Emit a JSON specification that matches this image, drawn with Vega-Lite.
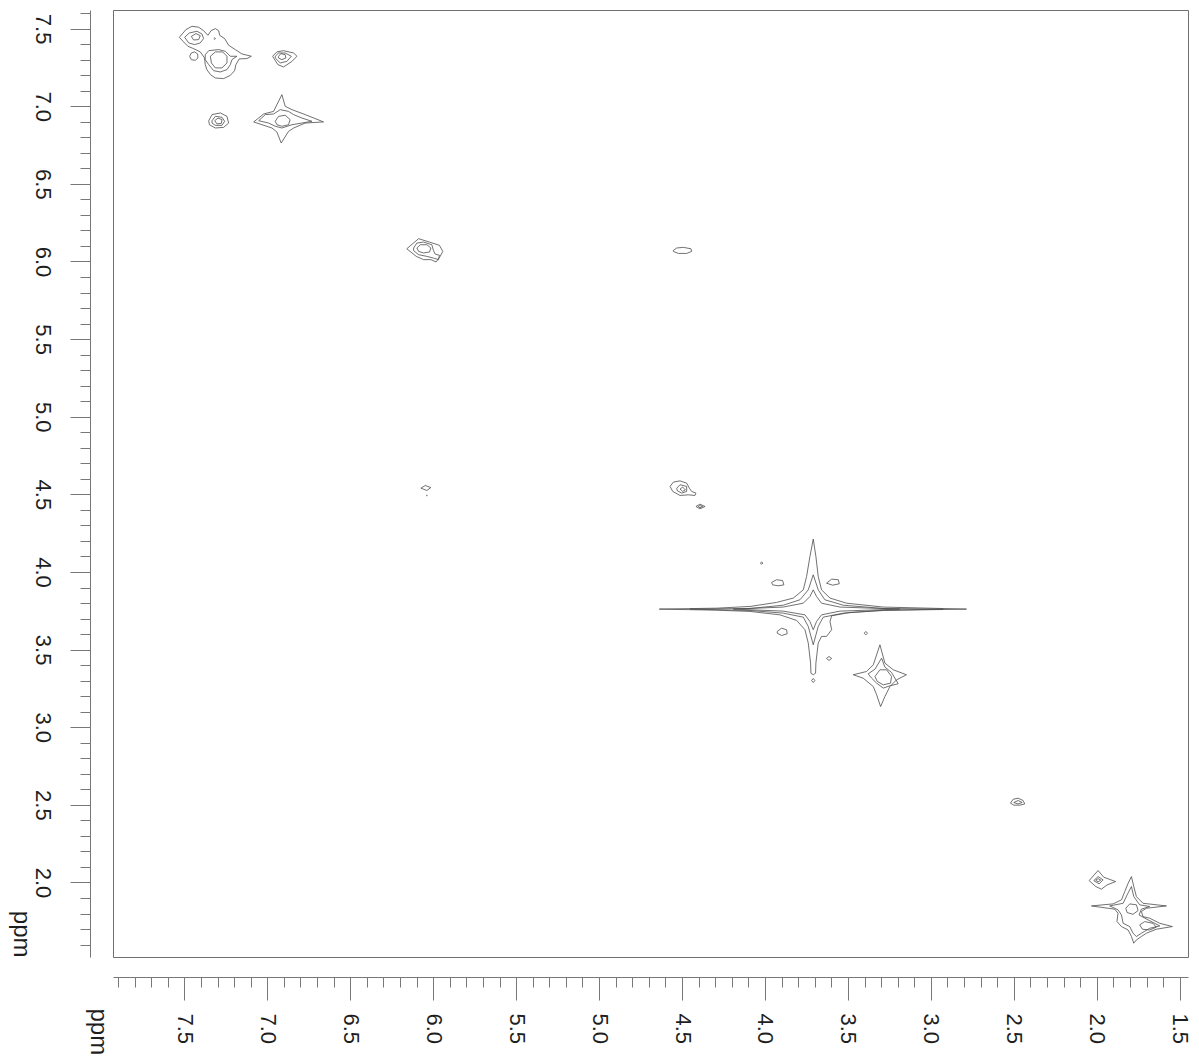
{
  "$schema": "https://vega.github.io/schema/vega-lite/v6.json",
  "width": 1075,
  "height": 947,
  "autosize": {"type": "none"},
  "padding": {"left": 113, "top": 10, "right": 11, "bottom": 105},
  "background": "white",
  "config": {
    "view": {"stroke": "#707070", "strokeWidth": 1},
    "axis": {
      "grid": false,
      "domainColor": "#777777",
      "tickColor": "#777777",
      "labelColor": "#1e1e1e",
      "titleColor": "#1e1e1e",
      "labelFont": "Liberation Sans",
      "titleFont": "Liberation Sans",
      "labelFontSize": 22,
      "titleFontSize": 24,
      "titleFontWeight": "normal",
      "labelFlush": false,
      "labelOverlap": false,
      "labelBound": false
    }
  },
  "data": {
    "values": [
      {"c":"A1","i":1,"x":7.530,"y":7.444},{"c":"A1","i":2,"x":7.490,"y":7.494},{"c":"A1","i":3,"x":7.454,"y":7.515},{"c":"A1","i":4,"x":7.414,"y":7.509},{"c":"A1","i":5,"x":7.384,"y":7.487},{"c":"A1","i":6,"x":7.358,"y":7.457},{"c":"A1","i":7,"x":7.339,"y":7.487},{"c":"A1","i":8,"x":7.313,"y":7.500},{"c":"A1","i":9,"x":7.293,"y":7.487},{"c":"A1","i":10,"x":7.287,"y":7.457},{"c":"A1","i":11,"x":7.257,"y":7.436},{"c":"A1","i":12,"x":7.233,"y":7.393},{"c":"A1","i":13,"x":7.193,"y":7.365},{"c":"A1","i":14,"x":7.153,"y":7.337},{"c":"A1","i":15,"x":7.096,"y":7.322},{"c":"A1","i":16,"x":7.123,"y":7.307},{"c":"A1","i":17,"x":7.169,"y":7.305},{"c":"A1","i":18,"x":7.189,"y":7.268},{"c":"A1","i":19,"x":7.197,"y":7.229},{"c":"A1","i":20,"x":7.223,"y":7.199},{"c":"A1","i":21,"x":7.263,"y":7.178},{"c":"A1","i":22,"x":7.313,"y":7.182},{"c":"A1","i":23,"x":7.343,"y":7.204},{"c":"A1","i":24,"x":7.364,"y":7.236},{"c":"A1","i":25,"x":7.374,"y":7.268},{"c":"A1","i":26,"x":7.378,"y":7.311},{"c":"A1","i":27,"x":7.404,"y":7.350},{"c":"A1","i":28,"x":7.444,"y":7.371},{"c":"A1","i":29,"x":7.478,"y":7.386},{"c":"A1","i":30,"x":7.504,"y":7.414},{"c":"A1","i":31,"x":7.530,"y":7.444},
      {"c":"A2","i":1,"x":7.498,"y":7.444},{"c":"A2","i":2,"x":7.470,"y":7.472},{"c":"A2","i":3,"x":7.424,"y":7.483},{"c":"A2","i":4,"x":7.394,"y":7.466},{"c":"A2","i":5,"x":7.384,"y":7.436},{"c":"A2","i":6,"x":7.404,"y":7.408},{"c":"A2","i":7,"x":7.438,"y":7.397},{"c":"A2","i":8,"x":7.474,"y":7.408},{"c":"A2","i":9,"x":7.498,"y":7.444},
      {"c":"A3","i":1,"x":7.458,"y":7.450},{"c":"A3","i":2,"x":7.430,"y":7.468},{"c":"A3","i":3,"x":7.404,"y":7.455},{"c":"A3","i":4,"x":7.414,"y":7.429},{"c":"A3","i":5,"x":7.444,"y":7.427},{"c":"A3","i":6,"x":7.458,"y":7.450},
      {"c":"A4","i":1,"x":7.468,"y":7.322},{"c":"A4","i":2,"x":7.458,"y":7.343},{"c":"A4","i":3,"x":7.438,"y":7.350},{"c":"A4","i":4,"x":7.420,"y":7.337},{"c":"A4","i":5,"x":7.418,"y":7.311},{"c":"A4","i":6,"x":7.434,"y":7.296},{"c":"A4","i":7,"x":7.458,"y":7.300},{"c":"A4","i":8,"x":7.468,"y":7.322},
      {"c":"A5","i":1,"x":7.374,"y":7.332},{"c":"A5","i":2,"x":7.353,"y":7.358},{"c":"A5","i":3,"x":7.293,"y":7.365},{"c":"A5","i":4,"x":7.253,"y":7.354},{"c":"A5","i":5,"x":7.223,"y":7.322},{"c":"A5","i":6,"x":7.183,"y":7.322},{"c":"A5","i":7,"x":7.213,"y":7.300},{"c":"A5","i":8,"x":7.223,"y":7.268},{"c":"A5","i":9,"x":7.243,"y":7.236},{"c":"A5","i":10,"x":7.283,"y":7.221},{"c":"A5","i":11,"x":7.323,"y":7.229},{"c":"A5","i":12,"x":7.353,"y":7.268},{"c":"A5","i":13,"x":7.374,"y":7.300},{"c":"A5","i":14,"x":7.374,"y":7.332},
      {"c":"A6","i":1,"x":7.343,"y":7.322},{"c":"A6","i":2,"x":7.313,"y":7.350},{"c":"A6","i":3,"x":7.269,"y":7.350},{"c":"A6","i":4,"x":7.243,"y":7.322},{"c":"A6","i":5,"x":7.243,"y":7.279},{"c":"A6","i":6,"x":7.273,"y":7.247},{"c":"A6","i":7,"x":7.313,"y":7.247},{"c":"A6","i":8,"x":7.337,"y":7.279},{"c":"A6","i":9,"x":7.343,"y":7.322},
      {"c":"A7","i":1,"x":7.322,"y":7.436},{"c":"A7","i":2,"x":7.317,"y":7.441},{"c":"A7","i":3,"x":7.312,"y":7.436},{"c":"A7","i":4,"x":7.317,"y":7.431},{"c":"A7","i":5,"x":7.322,"y":7.436},
      {"c":"B1","i":1,"x":6.968,"y":7.322},{"c":"B1","i":2,"x":6.942,"y":7.350},{"c":"B1","i":3,"x":6.902,"y":7.358},{"c":"B1","i":4,"x":6.841,"y":7.343},{"c":"B1","i":5,"x":6.821,"y":7.322},{"c":"B1","i":6,"x":6.851,"y":7.289},{"c":"B1","i":7,"x":6.902,"y":7.253},{"c":"B1","i":8,"x":6.936,"y":7.268},{"c":"B1","i":9,"x":6.968,"y":7.322},
      {"c":"B2","i":1,"x":6.952,"y":7.322},{"c":"B2","i":2,"x":6.932,"y":7.343},{"c":"B2","i":3,"x":6.892,"y":7.343},{"c":"B2","i":4,"x":6.855,"y":7.322},{"c":"B2","i":5,"x":6.882,"y":7.289},{"c":"B2","i":6,"x":6.922,"y":7.279},{"c":"B2","i":7,"x":6.952,"y":7.311},{"c":"B2","i":8,"x":6.952,"y":7.322},
      {"c":"B3","i":1,"x":6.932,"y":7.322},{"c":"B3","i":2,"x":6.918,"y":7.339},{"c":"B3","i":3,"x":6.892,"y":7.332},{"c":"B3","i":4,"x":6.888,"y":7.311},{"c":"B3","i":5,"x":6.912,"y":7.300},{"c":"B3","i":6,"x":6.932,"y":7.311},{"c":"B3","i":7,"x":6.932,"y":7.322},
      {"c":"C1","i":1,"x":7.353,"y":6.907},{"c":"C1","i":2,"x":7.333,"y":6.946},{"c":"C1","i":3,"x":7.283,"y":6.957},{"c":"C1","i":4,"x":7.243,"y":6.935},{"c":"C1","i":5,"x":7.233,"y":6.892},{"c":"C1","i":6,"x":7.263,"y":6.864},{"c":"C1","i":7,"x":7.313,"y":6.860},{"c":"C1","i":8,"x":7.349,"y":6.881},{"c":"C1","i":9,"x":7.353,"y":6.907},
      {"c":"C2","i":1,"x":7.333,"y":6.907},{"c":"C2","i":2,"x":7.313,"y":6.935},{"c":"C2","i":3,"x":7.273,"y":6.929},{"c":"C2","i":4,"x":7.257,"y":6.903},{"c":"C2","i":5,"x":7.273,"y":6.877},{"c":"C2","i":6,"x":7.313,"y":6.877},{"c":"C2","i":7,"x":7.333,"y":6.892},{"c":"C2","i":8,"x":7.333,"y":6.907},
      {"c":"C3","i":1,"x":7.317,"y":6.907},{"c":"C3","i":2,"x":7.297,"y":6.924},{"c":"C3","i":3,"x":7.273,"y":6.914},{"c":"C3","i":4,"x":7.277,"y":6.890},{"c":"C3","i":5,"x":7.303,"y":6.886},{"c":"C3","i":6,"x":7.317,"y":6.907},
      {"c":"D1","i":1,"x":7.082,"y":6.899},{"c":"D1","i":2,"x":7.022,"y":6.950},{"c":"D1","i":3,"x":6.962,"y":6.967},{"c":"D1","i":4,"x":6.912,"y":7.075},{"c":"D1","i":5,"x":6.892,"y":7.000},{"c":"D1","i":6,"x":6.851,"y":6.978},{"c":"D1","i":7,"x":6.771,"y":6.946},{"c":"D1","i":8,"x":6.661,"y":6.899},{"c":"D1","i":9,"x":6.771,"y":6.892},{"c":"D1","i":10,"x":6.841,"y":6.860},{"c":"D1","i":11,"x":6.872,"y":6.838},{"c":"D1","i":12,"x":6.916,"y":6.763},{"c":"D1","i":13,"x":6.942,"y":6.834},{"c":"D1","i":14,"x":6.972,"y":6.860},{"c":"D1","i":15,"x":7.032,"y":6.881},{"c":"D1","i":16,"x":7.082,"y":6.899},
      {"c":"D2","i":1,"x":7.052,"y":6.907},{"c":"D2","i":2,"x":7.012,"y":6.946},{"c":"D2","i":3,"x":6.962,"y":6.950},{"c":"D2","i":4,"x":6.922,"y":6.978},{"c":"D2","i":5,"x":6.872,"y":6.967},{"c":"D2","i":6,"x":6.841,"y":6.946},{"c":"D2","i":7,"x":6.791,"y":6.924},{"c":"D2","i":8,"x":6.731,"y":6.903},{"c":"D2","i":9,"x":6.791,"y":6.892},{"c":"D2","i":10,"x":6.851,"y":6.881},{"c":"D2","i":11,"x":6.912,"y":6.860},{"c":"D2","i":12,"x":6.952,"y":6.871},{"c":"D2","i":13,"x":6.992,"y":6.892},{"c":"D2","i":14,"x":7.052,"y":6.907},
      {"c":"D3","i":1,"x":6.952,"y":6.903},{"c":"D3","i":2,"x":6.932,"y":6.935},{"c":"D3","i":3,"x":6.892,"y":6.942},{"c":"D3","i":4,"x":6.862,"y":6.914},{"c":"D3","i":5,"x":6.872,"y":6.881},{"c":"D3","i":6,"x":6.912,"y":6.871},{"c":"D3","i":7,"x":6.942,"y":6.881},{"c":"D3","i":8,"x":6.952,"y":6.903},
      {"c":"E1","i":1,"x":6.159,"y":6.082},{"c":"E1","i":2,"x":6.088,"y":6.147},{"c":"E1","i":3,"x":6.022,"y":6.125},{"c":"E1","i":4,"x":5.962,"y":6.104},{"c":"E1","i":5,"x":5.942,"y":6.065},{"c":"E1","i":6,"x":5.958,"y":6.033},{"c":"E1","i":7,"x":5.982,"y":5.997},{"c":"E1","i":8,"x":6.014,"y":6.012},{"c":"E1","i":9,"x":6.058,"y":6.012},{"c":"E1","i":10,"x":6.102,"y":6.033},{"c":"E1","i":11,"x":6.159,"y":6.082},
      {"c":"E2","i":1,"x":6.118,"y":6.087},{"c":"E2","i":2,"x":6.098,"y":6.119},{"c":"E2","i":3,"x":6.058,"y":6.125},{"c":"E2","i":4,"x":6.008,"y":6.108},{"c":"E2","i":5,"x":5.998,"y":6.070},{"c":"E2","i":6,"x":5.988,"y":6.048},{"c":"E2","i":7,"x":5.962,"y":6.040},{"c":"E2","i":8,"x":5.968,"y":6.012},{"c":"E2","i":9,"x":5.998,"y":6.022},{"c":"E2","i":10,"x":6.038,"y":6.033},{"c":"E2","i":11,"x":6.088,"y":6.044},{"c":"E2","i":12,"x":6.118,"y":6.070},{"c":"E2","i":13,"x":6.118,"y":6.087},
      {"c":"E3","i":1,"x":6.098,"y":6.087},{"c":"E3","i":2,"x":6.078,"y":6.108},{"c":"E3","i":3,"x":6.038,"y":6.108},{"c":"E3","i":4,"x":6.014,"y":6.087},{"c":"E3","i":5,"x":6.022,"y":6.061},{"c":"E3","i":6,"x":6.058,"y":6.055},{"c":"E3","i":7,"x":6.088,"y":6.065},{"c":"E3","i":8,"x":6.098,"y":6.087},
      {"c":"F1","i":1,"x":4.552,"y":6.072},{"c":"F1","i":2,"x":4.532,"y":6.087},{"c":"F1","i":3,"x":4.492,"y":6.091},{"c":"F1","i":4,"x":4.446,"y":6.082},{"c":"F1","i":5,"x":4.442,"y":6.065},{"c":"F1","i":6,"x":4.472,"y":6.052},{"c":"F1","i":7,"x":4.522,"y":6.052},{"c":"F1","i":8,"x":4.552,"y":6.065},{"c":"F1","i":9,"x":4.552,"y":6.072},
      {"c":"G1","i":1,"x":6.074,"y":4.540},{"c":"G1","i":2,"x":6.048,"y":4.557},{"c":"G1","i":3,"x":6.014,"y":4.544},{"c":"G1","i":4,"x":6.038,"y":4.525},{"c":"G1","i":5,"x":6.074,"y":4.540},
      {"c":"G2","i":1,"x":6.041,"y":4.493},{"c":"G2","i":2,"x":6.038,"y":4.496},{"c":"G2","i":3,"x":6.035,"y":4.493},{"c":"G2","i":4,"x":6.038,"y":4.490},{"c":"G2","i":5,"x":6.041,"y":4.493},
      {"c":"H1","i":1,"x":4.572,"y":4.551},{"c":"H1","i":2,"x":4.552,"y":4.579},{"c":"H1","i":3,"x":4.512,"y":4.587},{"c":"H1","i":4,"x":4.472,"y":4.572},{"c":"H1","i":5,"x":4.456,"y":4.540},{"c":"H1","i":6,"x":4.442,"y":4.519},{"c":"H1","i":7,"x":4.416,"y":4.508},{"c":"H1","i":8,"x":4.422,"y":4.493},{"c":"H1","i":9,"x":4.462,"y":4.497},{"c":"H1","i":10,"x":4.512,"y":4.493},{"c":"H1","i":11,"x":4.556,"y":4.519},{"c":"H1","i":12,"x":4.572,"y":4.551},
      {"c":"H2","i":1,"x":4.532,"y":4.540},{"c":"H2","i":2,"x":4.512,"y":4.562},{"c":"H2","i":3,"x":4.472,"y":4.551},{"c":"H2","i":4,"x":4.472,"y":4.519},{"c":"H2","i":5,"x":4.502,"y":4.508},{"c":"H2","i":6,"x":4.528,"y":4.523},{"c":"H2","i":7,"x":4.532,"y":4.540},
      {"c":"H3","i":1,"x":4.512,"y":4.534},{"c":"H3","i":2,"x":4.496,"y":4.547},{"c":"H3","i":3,"x":4.480,"y":4.529},{"c":"H3","i":4,"x":4.496,"y":4.519},{"c":"H3","i":5,"x":4.512,"y":4.534},
      {"c":"I1","i":1,"x":4.416,"y":4.422},{"c":"I1","i":2,"x":4.392,"y":4.437},{"c":"I1","i":3,"x":4.361,"y":4.422},{"c":"I1","i":4,"x":4.392,"y":4.407},{"c":"I1","i":5,"x":4.416,"y":4.422},
      {"c":"I2","i":1,"x":4.402,"y":4.422},{"c":"I2","i":2,"x":4.392,"y":4.428},{"c":"I2","i":3,"x":4.376,"y":4.422},{"c":"I2","i":4,"x":4.392,"y":4.413},{"c":"I2","i":5,"x":4.402,"y":4.422},
      {"c":"J1","i":1,"x":4.637,"y":3.761},{"c":"J1","i":2,"x":4.291,"y":3.767},{"c":"J1","i":3,"x":4.090,"y":3.778},{"c":"J1","i":4,"x":3.930,"y":3.804},{"c":"J1","i":5,"x":3.829,"y":3.832},{"c":"J1","i":6,"x":3.769,"y":3.885},{"c":"J1","i":7,"x":3.749,"y":3.971},{"c":"J1","i":8,"x":3.729,"y":4.100},{"c":"J1","i":9,"x":3.709,"y":4.212},{"c":"J1","i":10,"x":3.693,"y":4.100},{"c":"J1","i":11,"x":3.679,"y":3.971},{"c":"J1","i":12,"x":3.659,"y":3.885},{"c":"J1","i":13,"x":3.608,"y":3.832},{"c":"J1","i":14,"x":3.508,"y":3.799},{"c":"J1","i":15,"x":3.287,"y":3.774},{"c":"J1","i":16,"x":2.785,"y":3.761},{"c":"J1","i":17,"x":3.287,"y":3.752},{"c":"J1","i":18,"x":3.488,"y":3.739},{"c":"J1","i":19,"x":3.598,"y":3.718},{"c":"J1","i":20,"x":3.608,"y":3.681},{"c":"J1","i":21,"x":3.598,"y":3.628},{"c":"J1","i":22,"x":3.629,"y":3.585},{"c":"J1","i":23,"x":3.659,"y":3.585},{"c":"J1","i":24,"x":3.679,"y":3.542},{"c":"J1","i":25,"x":3.693,"y":3.413},{"c":"J1","i":26,"x":3.695,"y":3.348},{"c":"J1","i":27,"x":3.709,"y":3.338},{"c":"J1","i":28,"x":3.723,"y":3.348},{"c":"J1","i":29,"x":3.725,"y":3.413},{"c":"J1","i":30,"x":3.739,"y":3.542},{"c":"J1","i":31,"x":3.759,"y":3.628},{"c":"J1","i":32,"x":3.809,"y":3.688},{"c":"J1","i":33,"x":3.910,"y":3.724},{"c":"J1","i":34,"x":4.090,"y":3.746},{"c":"J1","i":35,"x":4.291,"y":3.754},{"c":"J1","i":36,"x":4.637,"y":3.761},
      {"c":"J2","i":1,"x":4.452,"y":3.761},{"c":"J2","i":2,"x":4.090,"y":3.765},{"c":"J2","i":3,"x":3.890,"y":3.786},{"c":"J2","i":4,"x":3.789,"y":3.821},{"c":"J2","i":5,"x":3.739,"y":3.885},{"c":"J2","i":6,"x":3.709,"y":3.982},{"c":"J2","i":7,"x":3.679,"y":3.885},{"c":"J2","i":8,"x":3.639,"y":3.821},{"c":"J2","i":9,"x":3.528,"y":3.786},{"c":"J2","i":10,"x":3.287,"y":3.765},{"c":"J2","i":11,"x":2.926,"y":3.761},{"c":"J2","i":12,"x":3.287,"y":3.754},{"c":"J2","i":13,"x":3.528,"y":3.735},{"c":"J2","i":14,"x":3.649,"y":3.709},{"c":"J2","i":15,"x":3.679,"y":3.649},{"c":"J2","i":16,"x":3.709,"y":3.531},{"c":"J2","i":17,"x":3.739,"y":3.649},{"c":"J2","i":18,"x":3.769,"y":3.709},{"c":"J2","i":19,"x":3.890,"y":3.735},{"c":"J2","i":20,"x":4.090,"y":3.752},{"c":"J2","i":21,"x":4.452,"y":3.761},
      {"c":"J3","i":1,"x":4.191,"y":3.761},{"c":"J3","i":2,"x":3.890,"y":3.774},{"c":"J3","i":3,"x":3.769,"y":3.799},{"c":"J3","i":4,"x":3.729,"y":3.842},{"c":"J3","i":5,"x":3.709,"y":3.885},{"c":"J3","i":6,"x":3.689,"y":3.842},{"c":"J3","i":7,"x":3.659,"y":3.799},{"c":"J3","i":8,"x":3.548,"y":3.774},{"c":"J3","i":9,"x":3.187,"y":3.761},{"c":"J3","i":10,"x":3.548,"y":3.748},{"c":"J3","i":11,"x":3.659,"y":3.724},{"c":"J3","i":12,"x":3.689,"y":3.681},{"c":"J3","i":13,"x":3.709,"y":3.628},{"c":"J3","i":14,"x":3.729,"y":3.681},{"c":"J3","i":15,"x":3.759,"y":3.724},{"c":"J3","i":16,"x":3.890,"y":3.748},{"c":"J3","i":17,"x":4.191,"y":3.761},
      {"c":"L1","i":1,"x":3.960,"y":3.933},{"c":"L1","i":2,"x":3.930,"y":3.950},{"c":"L1","i":3,"x":3.894,"y":3.945},{"c":"L1","i":4,"x":3.886,"y":3.917},{"c":"L1","i":5,"x":3.920,"y":3.911},{"c":"L1","i":6,"x":3.954,"y":3.917},{"c":"L1","i":7,"x":3.960,"y":3.933},
      {"c":"L2","i":1,"x":3.629,"y":3.928},{"c":"L2","i":2,"x":3.598,"y":3.954},{"c":"L2","i":3,"x":3.558,"y":3.950},{"c":"L2","i":4,"x":3.552,"y":3.924},{"c":"L2","i":5,"x":3.592,"y":3.915},{"c":"L2","i":6,"x":3.629,"y":3.928},
      {"c":"L3","i":1,"x":3.926,"y":3.617},{"c":"L3","i":2,"x":3.900,"y":3.638},{"c":"L3","i":3,"x":3.870,"y":3.628},{"c":"L3","i":4,"x":3.866,"y":3.602},{"c":"L3","i":5,"x":3.900,"y":3.591},{"c":"L3","i":6,"x":3.926,"y":3.606},{"c":"L3","i":7,"x":3.926,"y":3.617},
      {"c":"L4","i":1,"x":3.629,"y":3.443},{"c":"L4","i":2,"x":3.614,"y":3.456},{"c":"L4","i":3,"x":3.598,"y":3.443},{"c":"L4","i":4,"x":3.614,"y":3.430},{"c":"L4","i":5,"x":3.629,"y":3.443},
      {"c":"L5","i":1,"x":3.402,"y":3.606},{"c":"L5","i":2,"x":3.392,"y":3.617},{"c":"L5","i":3,"x":3.382,"y":3.606},{"c":"L5","i":4,"x":3.392,"y":3.595},{"c":"L5","i":5,"x":3.402,"y":3.606},
      {"c":"L6","i":1,"x":3.719,"y":3.301},{"c":"L6","i":2,"x":3.709,"y":3.314},{"c":"L6","i":3,"x":3.699,"y":3.301},{"c":"L6","i":4,"x":3.709,"y":3.288},{"c":"L6","i":5,"x":3.719,"y":3.301},
      {"c":"L7","i":1,"x":4.028,"y":4.057},{"c":"L7","i":2,"x":4.020,"y":4.064},{"c":"L7","i":3,"x":4.012,"y":4.057},{"c":"L7","i":4,"x":4.020,"y":4.051},{"c":"L7","i":5,"x":4.028,"y":4.057},
      {"c":"K1","i":1,"x":3.468,"y":3.338},{"c":"K1","i":2,"x":3.388,"y":3.359},{"c":"K1","i":3,"x":3.347,"y":3.402},{"c":"K1","i":4,"x":3.307,"y":3.531},{"c":"K1","i":5,"x":3.277,"y":3.413},{"c":"K1","i":6,"x":3.227,"y":3.370},{"c":"K1","i":7,"x":3.147,"y":3.338},{"c":"K1","i":8,"x":3.207,"y":3.305},{"c":"K1","i":9,"x":3.247,"y":3.262},{"c":"K1","i":10,"x":3.277,"y":3.198},{"c":"K1","i":11,"x":3.303,"y":3.133},{"c":"K1","i":12,"x":3.327,"y":3.209},{"c":"K1","i":13,"x":3.347,"y":3.262},{"c":"K1","i":14,"x":3.408,"y":3.316},{"c":"K1","i":15,"x":3.468,"y":3.338},
      {"c":"K2","i":1,"x":3.378,"y":3.344},{"c":"K2","i":2,"x":3.337,"y":3.374},{"c":"K2","i":3,"x":3.297,"y":3.445},{"c":"K2","i":4,"x":3.277,"y":3.387},{"c":"K2","i":5,"x":3.237,"y":3.353},{"c":"K2","i":6,"x":3.197,"y":3.280},{"c":"K2","i":7,"x":3.247,"y":3.267},{"c":"K2","i":8,"x":3.287,"y":3.252},{"c":"K2","i":9,"x":3.327,"y":3.284},{"c":"K2","i":10,"x":3.357,"y":3.316},{"c":"K2","i":11,"x":3.378,"y":3.344},
      {"c":"K3","i":1,"x":3.337,"y":3.327},{"c":"K3","i":2,"x":3.307,"y":3.370},{"c":"K3","i":3,"x":3.267,"y":3.370},{"c":"K3","i":4,"x":3.237,"y":3.327},{"c":"K3","i":5,"x":3.243,"y":3.284},{"c":"K3","i":6,"x":3.287,"y":3.273},{"c":"K3","i":7,"x":3.323,"y":3.295},{"c":"K3","i":8,"x":3.337,"y":3.327},
      {"c":"M1","i":1,"x":2.520,"y":2.511},{"c":"M1","i":2,"x":2.504,"y":2.536},{"c":"M1","i":3,"x":2.474,"y":2.543},{"c":"M1","i":4,"x":2.444,"y":2.528},{"c":"M1","i":5,"x":2.434,"y":2.506},{"c":"M1","i":6,"x":2.464,"y":2.498},{"c":"M1","i":7,"x":2.500,"y":2.498},{"c":"M1","i":8,"x":2.520,"y":2.511},
      {"c":"M2","i":1,"x":2.500,"y":2.515},{"c":"M2","i":2,"x":2.474,"y":2.528},{"c":"M2","i":3,"x":2.450,"y":2.515},{"c":"M2","i":4,"x":2.474,"y":2.506},{"c":"M2","i":5,"x":2.500,"y":2.515},
      {"c":"N1","i":1,"x":2.046,"y":2.012},{"c":"N1","i":2,"x":1.992,"y":2.077},{"c":"N1","i":3,"x":1.958,"y":2.034},{"c":"N1","i":4,"x":1.886,"y":2.006},{"c":"N1","i":5,"x":1.938,"y":1.984},{"c":"N1","i":6,"x":1.972,"y":1.957},{"c":"N1","i":7,"x":2.006,"y":1.974},{"c":"N1","i":8,"x":2.046,"y":2.012},
      {"c":"N2","i":1,"x":2.018,"y":2.012},{"c":"N2","i":2,"x":1.992,"y":2.038},{"c":"N2","i":3,"x":1.962,"y":2.017},{"c":"N2","i":4,"x":1.986,"y":1.991},{"c":"N2","i":5,"x":2.018,"y":2.012},
      {"c":"N3","i":1,"x":2.006,"y":2.015},{"c":"N3","i":2,"x":1.992,"y":2.025},{"c":"N3","i":3,"x":1.976,"y":2.015},{"c":"N3","i":4,"x":1.992,"y":2.004},{"c":"N3","i":5,"x":2.006,"y":2.015},
      {"c":"O1","i":1,"x":2.032,"y":1.849},{"c":"O1","i":2,"x":1.902,"y":1.862},{"c":"O1","i":3,"x":1.851,"y":1.888},{"c":"O1","i":4,"x":1.831,"y":1.942},{"c":"O1","i":5,"x":1.811,"y":1.995},{"c":"O1","i":6,"x":1.791,"y":2.038},{"c":"O1","i":7,"x":1.777,"y":1.974},{"c":"O1","i":8,"x":1.761,"y":1.909},{"c":"O1","i":9,"x":1.721,"y":1.866},{"c":"O1","i":10,"x":1.580,"y":1.849},{"c":"O1","i":11,"x":1.701,"y":1.834},{"c":"O1","i":12,"x":1.731,"y":1.813},{"c":"O1","i":13,"x":1.721,"y":1.780},{"c":"O1","i":14,"x":1.681,"y":1.770},{"c":"O1","i":15,"x":1.620,"y":1.737},{"c":"O1","i":16,"x":1.544,"y":1.716},{"c":"O1","i":17,"x":1.641,"y":1.699},{"c":"O1","i":18,"x":1.701,"y":1.673},{"c":"O1","i":19,"x":1.731,"y":1.652},{"c":"O1","i":20,"x":1.761,"y":1.630},{"c":"O1","i":21,"x":1.777,"y":1.609},{"c":"O1","i":22,"x":1.791,"y":1.652},{"c":"O1","i":23,"x":1.811,"y":1.694},{"c":"O1","i":24,"x":1.851,"y":1.716},{"c":"O1","i":25,"x":1.878,"y":1.748},{"c":"O1","i":26,"x":1.872,"y":1.802},{"c":"O1","i":27,"x":1.892,"y":1.828},{"c":"O1","i":28,"x":2.032,"y":1.849},
      {"c":"O2","i":1,"x":1.922,"y":1.849},{"c":"O2","i":2,"x":1.841,"y":1.866},{"c":"O2","i":3,"x":1.817,"y":1.920},{"c":"O2","i":4,"x":1.791,"y":1.974},{"c":"O2","i":5,"x":1.777,"y":1.909},{"c":"O2","i":6,"x":1.741,"y":1.856},{"c":"O2","i":7,"x":1.681,"y":1.845},{"c":"O2","i":8,"x":1.731,"y":1.828},{"c":"O2","i":9,"x":1.745,"y":1.791},{"c":"O2","i":10,"x":1.691,"y":1.759},{"c":"O2","i":11,"x":1.620,"y":1.720},{"c":"O2","i":12,"x":1.681,"y":1.705},{"c":"O2","i":13,"x":1.731,"y":1.673},{"c":"O2","i":14,"x":1.761,"y":1.652},{"c":"O2","i":15,"x":1.781,"y":1.673},{"c":"O2","i":16,"x":1.801,"y":1.716},{"c":"O2","i":17,"x":1.841,"y":1.737},{"c":"O2","i":18,"x":1.851,"y":1.791},{"c":"O2","i":19,"x":1.872,"y":1.824},{"c":"O2","i":20,"x":1.922,"y":1.849},
      {"c":"O3","i":1,"x":1.825,"y":1.834},{"c":"O3","i":2,"x":1.801,"y":1.862},{"c":"O3","i":3,"x":1.761,"y":1.856},{"c":"O3","i":4,"x":1.751,"y":1.819},{"c":"O3","i":5,"x":1.781,"y":1.795},{"c":"O3","i":6,"x":1.817,"y":1.806},{"c":"O3","i":7,"x":1.825,"y":1.834},
      {"c":"O4","i":1,"x":1.741,"y":1.727},{"c":"O4","i":2,"x":1.711,"y":1.748},{"c":"O4","i":3,"x":1.661,"y":1.737},{"c":"O4","i":4,"x":1.641,"y":1.712},{"c":"O4","i":5,"x":1.681,"y":1.694},{"c":"O4","i":6,"x":1.725,"y":1.699},{"c":"O4","i":7,"x":1.741,"y":1.727}
    ]
  },
  "mark": {"type": "line", "color": "#4d4d4d", "strokeWidth": 0.8, "strokeJoin": "round"},
  "encoding": {
    "x": {
      "field": "x",
      "type": "quantitative",
      "scale": {"domain": [1.45, 7.93], "reverse": true, "nice": false, "zero": false},
      "axis": {
        "orient": "bottom",
        "offset": 20,
        "title": "ppm",
        "values": [1.5,1.6,1.7,1.8,1.9,2.0,2.1,2.2,2.3,2.4,2.5,2.6,2.7,2.8,2.9,3.0,3.1,3.2,3.3,3.4,3.5,3.6,3.7,3.8,3.9,4.0,4.1,4.2,4.3,4.4,4.5,4.6,4.7,4.8,4.9,5.0,5.1,5.2,5.3,5.4,5.5,5.6,5.7,5.8,5.9,6.0,6.1,6.2,6.3,6.4,6.5,6.6,6.7,6.8,6.9,7.0,7.1,7.2,7.3,7.4,7.5,7.6,7.7,7.8,7.9],
        "labelExpr": "abs(datum.value * 2 - round(datum.value * 2)) < 0.001 ? format(datum.value, '.1f') : ''",
        "tickSize": {"condition": {"test": "abs(datum.value * 2 - round(datum.value * 2)) < 0.001", "value": 23}, "value": 10},
        "labelAngle": 90,
        "labelAlign": "left",
        "labelBaseline": "middle",
        "labelPadding": 13,
        "titleAngle": 90,
        "titleAlign": "left",
        "titleBaseline": "middle",
        "titleX": -16,
        "titleY": 31
      }
    },
    "y": {
      "field": "y",
      "type": "quantitative",
      "scale": {"domain": [1.52, 7.62], "nice": false, "zero": false},
      "axis": {
        "orient": "left",
        "offset": 23,
        "title": "ppm",
        "values": [1.6,1.7,1.8,1.9,2.0,2.1,2.2,2.3,2.4,2.5,2.6,2.7,2.8,2.9,3.0,3.1,3.2,3.3,3.4,3.5,3.6,3.7,3.8,3.9,4.0,4.1,4.2,4.3,4.4,4.5,4.6,4.7,4.8,4.9,5.0,5.1,5.2,5.3,5.4,5.5,5.6,5.7,5.8,5.9,6.0,6.1,6.2,6.3,6.4,6.5,6.6,6.7,6.8,6.9,7.0,7.1,7.2,7.3,7.4,7.5,7.6],
        "labelExpr": "abs(datum.value * 2 - round(datum.value * 2)) < 0.001 ? format(datum.value, '.1f') : ''",
        "tickSize": {"condition": {"test": "abs(datum.value * 2 - round(datum.value * 2)) < 0.001", "value": 20}, "value": 10},
        "labelAngle": 90,
        "labelAlign": "center",
        "labelBaseline": "top",
        "labelPadding": 18,
        "titleAngle": 90,
        "titleAlign": "right",
        "titleBaseline": "middle",
        "titleX": -70,
        "titleY": 947
      }
    },
    "detail": {"field": "c", "type": "nominal"},
    "order": {"field": "i", "type": "quantitative"}
  }
}
